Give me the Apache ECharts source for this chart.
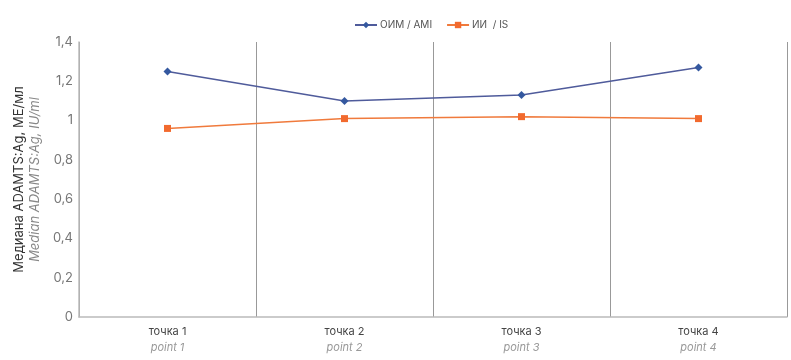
<!DOCTYPE html>
<html><head><meta charset="utf-8">
<script src="https://cdn.jsdelivr.net/npm/echarts@6/dist/echarts.min.js"></script>
<style>html,body{margin:0;padding:0;background:#fff}#c{width:791px;height:360px}</style>
</head><body><div id="c"></div>
<script>
const categoriesRu = ['точка 1','точка 2','точка 3','точка 4'];
const categoriesEn = ['point 1','point 2','point 3','point 4'];
const amiValues = [1.25, 1.10, 1.13, 1.27];
const isValues = [0.96, 1.01, 1.02, 1.01];
const yTicks = [0, 0.2, 0.4, 0.6, 0.8, 1, 1.2, 1.4];

const chart = echarts.init(document.getElementById('c'));
chart.setOption({
  animation: false,
  textStyle: {fontFamily: 'Inter, "Noto Sans", sans-serif'},
  legend: {
    top: 15, left: 349, itemGap: 14, itemWidth: 22, itemHeight: 8,
    textStyle: {fontSize: 10, color: '#555', padding: [0, 0, 0, -2]},
    data: ['ОИМ / AMI', 'ИИ  / IS']
  },
  grid: {left: 79, right: 4, top: 42, bottom: 43},
  xAxis: {
    type: 'category',
    data: categoriesRu.map((c, i) => c + '|' + categoriesEn[i]),
    boundaryGap: true,
    axisLine: {lineStyle: {color: '#bbb', width: 1.5}},
    axisTick: {show: false},
    splitLine: {show: true, lineStyle: {color: '#999', width: 1}},
    axisLabel: {
      margin: 7,
      formatter: v => { const p = v.split('|'); return '{a|' + p[0] + '}\n{b|' + p[1] + '}'; },
      rich: {
        a: {fontSize: 11, color: '#444', lineHeight: 16},
        b: {fontSize: 11, color: '#999', fontStyle: 'italic', lineHeight: 16}
      }
    }
  },
  yAxis: {
    type: 'value', min: 0, max: 1.4, interval: 0.2,
    axisLine: {show: true, lineStyle: {color: '#bbb', width: 1.5}},
    axisTick: {show: false},
    splitLine: {show: false},
    axisLabel: {
      fontSize: 13, color: '#777', margin: 6,
      formatter: v => { const t = yTicks.find(x => Math.abs(x - v) < 1e-9); return String(t !== undefined ? t : v).replace('.', ','); }
    },
    name: '{a|Медиана ADAMTS:Ag, МЕ/мл}\n{b|Median ADAMTS:Ag, IU/ml}',
    nameLocation: 'middle', nameRotate: 90, nameGap: 34,
    nameTextStyle: {
      rich: {
        a: {fontSize: 13, color: '#333', lineHeight: 16},
        b: {fontSize: 13, color: '#888', fontStyle: 'italic', lineHeight: 16}
      }
    }
  },
  series: [
    {
      name: 'ОИМ / AMI', type: 'line', data: amiValues,
      symbol: 'diamond', symbolSize: 8,
      lineStyle: {color: '#4f5b9b', width: 1.5},
      itemStyle: {color: '#34589f'}
    },
    {
      name: 'ИИ  / IS', type: 'line', data: isValues,
      symbol: 'rect', symbolSize: 7,
      lineStyle: {color: '#f07a3c', width: 1.5},
      itemStyle: {color: '#f26a2e'}
    }
  ]
});
</script></body></html>
